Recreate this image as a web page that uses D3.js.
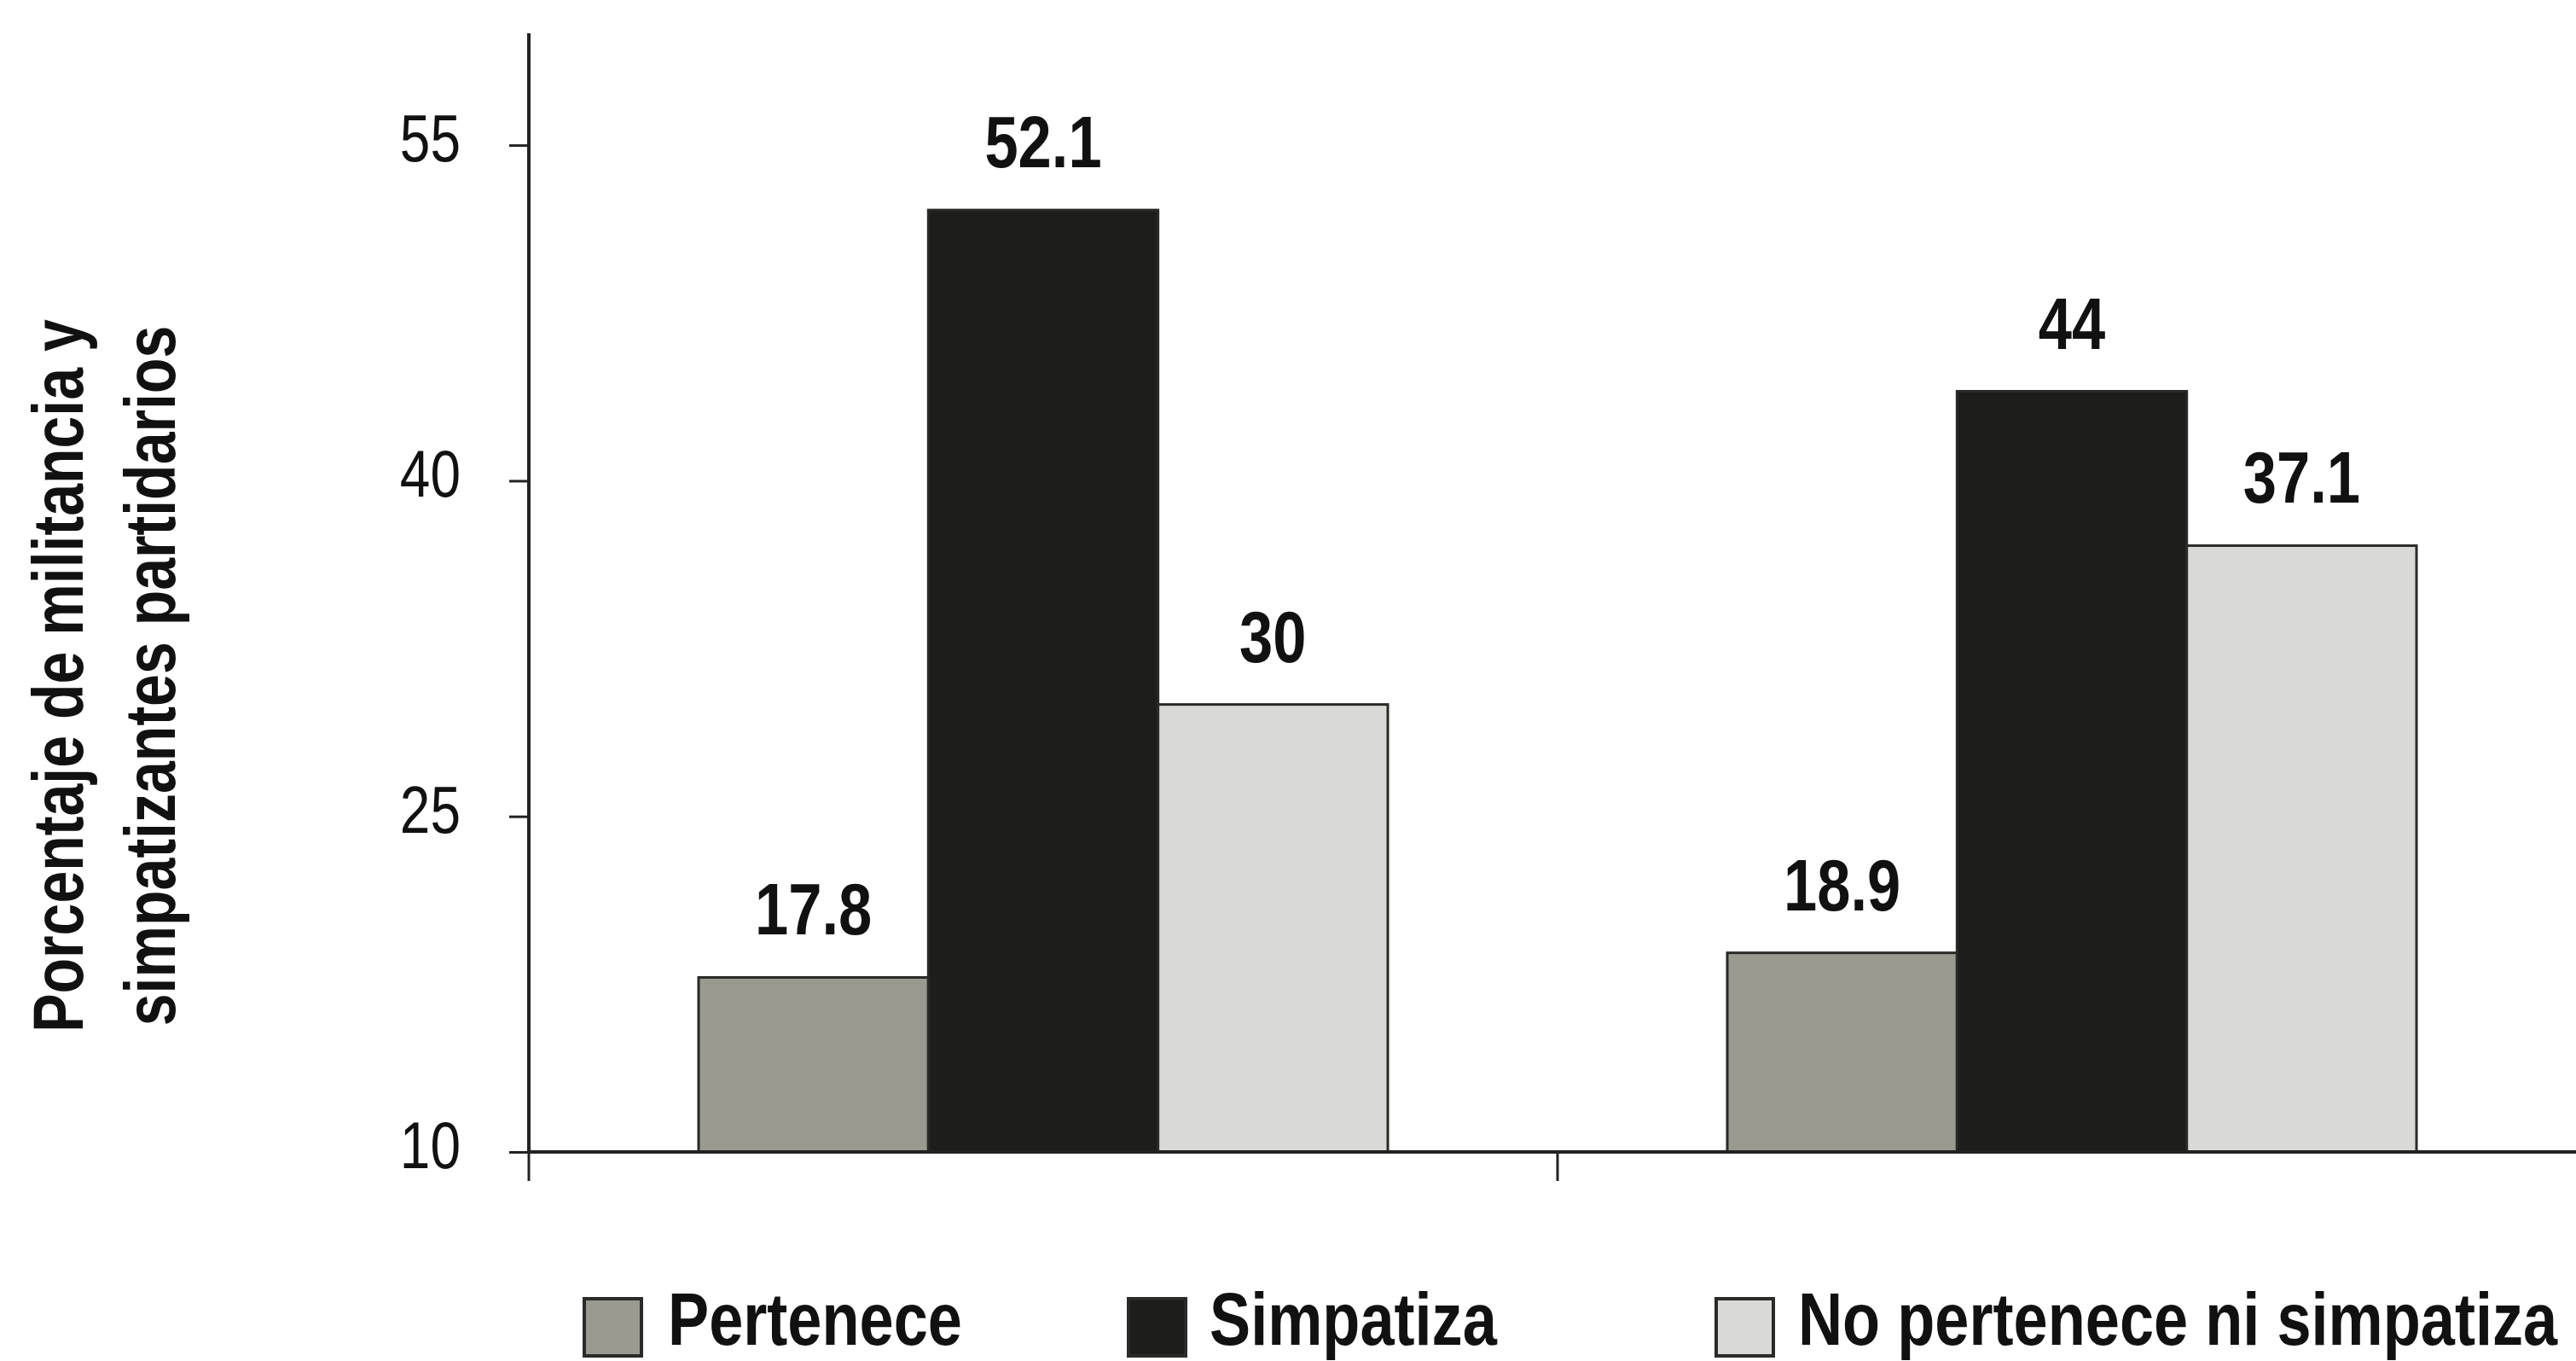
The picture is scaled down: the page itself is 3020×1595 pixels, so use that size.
<!DOCTYPE html>
<html><head><meta charset="utf-8">
<script src="https://cdn.jsdelivr.net/npm/d3@7"></script>
<style>body{margin:0;background:#fff;overflow:hidden}</style>
</head><body>
<svg id="c" width="3020" height="1595" xmlns="http://www.w3.org/2000/svg"></svg>
<script>
// ---- data ----
const categories = ["Grupo A", "Grupo B"];
const seriesNames = ["Pertenece", "Simpatiza", "No pertenece ni simpatiza"];
const pertenece = [17.8, 18.9];
const simpatiza = [52.1, 44];
const noPertenece = [30, 37.1];
const yTicks = [10, 25, 40, 55];
const yTitleLines = ["Porcentaje de militancia y", "simpatizantes partidarios"];
const seriesColors = ["#9a9a90", "#1d1d1a", "#d9d9d5"];

const seriesValues = [pertenece, simpatiza, noPertenece];
const rows = categories.map((c, i) => ({cat: c, vals: seriesNames.map((s, j) => ({s, v: seriesValues[j][i], j}))}));

const svg = d3.select("#c");
svg.append("rect").attr("width", 3020).attr("height", 1595).attr("fill", "#fff");

// font detection: narrow font available?
const NARROW = "'Liberation Sans Narrow','Arial Narrow'";
const probe1 = svg.append("text").style("font-family", NARROW + ",'Liberation Sans'").style("font-size", "100px").text("Porcentaje militancia");
const probe2 = svg.append("text").style("font-family", "'Liberation Sans'").style("font-size", "100px").text("Porcentaje militancia");
const ratio = probe1.node().getComputedTextLength() / probe2.node().getComputedTextLength();
probe1.remove(); probe2.remove();
const hasNarrow = ratio < 0.92;
const fam = hasNarrow ? NARROW + ",'Liberation Sans'" : "'Liberation Sans'";
const sx = hasNarrow ? 1 : 0.82;

function txt(g, str, x, y, opts) {
  const rot = opts.rot || 0;
  return g.append("text")
    .attr("transform", `translate(${x},${y}) rotate(${rot}) scale(${sx},1)`)
    .attr("text-anchor", opts.anchor || "start")
    .style("font-family", fam)
    .style("font-size", opts.size + "px")
    .style("font-weight", opts.bold ? "bold" : "normal")
    .attr("fill", "#111")
    .text(str);
}

// ---- scales ----
const y = d3.scaleLinear().domain([10, 60]).range([1350, 39]);
const x0 = d3.scaleBand().domain(categories).range([620, 3032]).paddingInner(0).paddingOuter(0);
const bw = x0.bandwidth();
const groupW = bw * 0.67;
const x1 = d3.scaleBand().domain(seriesNames).range([(bw - groupW) / 2, (bw + groupW) / 2]).padding(0);
const color = d3.scaleOrdinal().domain(seriesNames).range(seriesColors);

// ---- bars ----
const groups = svg.append("g").selectAll("g").data(rows).join("g")
  .attr("transform", d => `translate(${x0(d.cat)},0)`);
groups.selectAll("rect").data(d => d.vals).join("rect")
  .attr("x", d => x1(d.s))
  .attr("y", d => y(d.v))
  .attr("width", x1.bandwidth())
  .attr("height", d => y(10) - y(d.v))
  .attr("fill", d => color(d.s))
  .attr("stroke", "#2a2a28")
  .attr("stroke-width", 3);

// value labels
groups.each(function(d) {
  const g = d3.select(this);
  d.vals.forEach(v => {
    txt(g, String(v.v), x1(v.s) + x1.bandwidth() / 2, y(v.v) - 50, {size: 86, bold: true, anchor: "middle"});
  });
});

// ---- y axis ----
const yAxis = d3.axisLeft(y).tickValues(yTicks).tickSize(23).tickFormat("");
const ya = svg.append("g").attr("transform", "translate(620,0)").call(yAxis);
ya.select(".domain").attr("stroke", "#222").attr("stroke-width", 4).attr("d", `M0,${y(60)}V${y(10) + 2}`);
ya.selectAll(".tick line").attr("stroke", "#222").attr("stroke-width", 3);
yTicks.forEach(t => txt(svg, String(t), 540, y(t) + 19, {size: 78, anchor: "end"}));

// ---- x axis ----
const xAxis = d3.axisBottom(x0).tickValues([]).tickSizeOuter(0);
const xa = svg.append("g").attr("transform", `translate(0,${y(10)})`).call(xAxis);
xa.select(".domain").attr("stroke", "#222").attr("stroke-width", 4).attr("d", `M618,0H3020`);
// category boundary ticks (downward)
const bounds = categories.map(c => x0(c)).concat([x0(categories[categories.length - 1]) + bw]);
xa.selectAll("line.bt").data(bounds).join("line").attr("class", "bt")
  .attr("x1", d => d).attr("x2", d => d).attr("y1", 0).attr("y2", 34)
  .attr("stroke", "#222").attr("stroke-width", 3);

// ---- y title ----
yTitleLines.forEach((l, i) => txt(svg, l, 97 + i * 108, 792, {size: 83, bold: true, anchor: "middle", rot: -90}));

// ---- legend ----
const legSq = [685, 1323, 2012];
const legTx = [783, 1418, 2108];
seriesNames.forEach((s, i) => {
  svg.append("rect").attr("x", legSq[i]).attr("y", 1522).attr("width", 67).attr("height", 67)
    .attr("fill", color(s)).attr("stroke", "#2a2a28").attr("stroke-width", 4);
  const t = txt(svg, s, legTx[i], 1576, {size: 88, bold: true});
  const maxW = 3016 - legTx[i];
  const w = t.node().getComputedTextLength() * sx;
  if (w > maxW) t.attr("textLength", maxW / sx).attr("lengthAdjust", "spacingAndGlyphs");
});
</script>
</body></html>
